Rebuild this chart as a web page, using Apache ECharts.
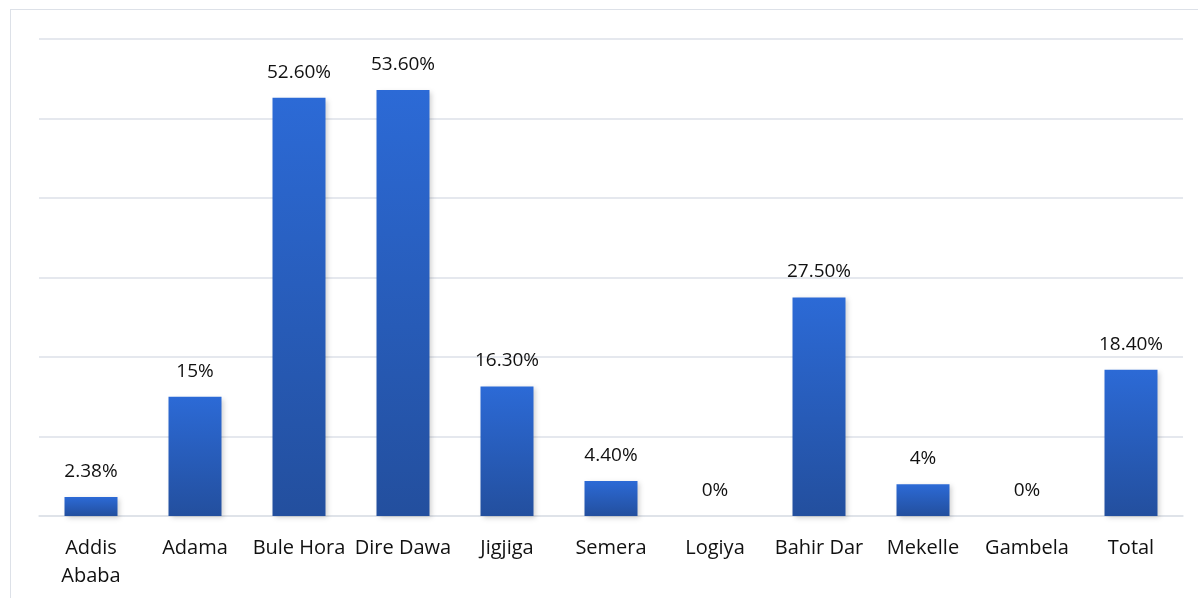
<!DOCTYPE html>
<html>
<head>
<meta charset="utf-8">
<script src="https://cdn.jsdelivr.net/npm/echarts@6/dist/echarts.min.js"></script>
<style>
  html, body { margin: 0; padding: 0; background: #fff; }
  #frame { position: absolute; left: 10px; top: 9px; width: 1200px; height: 600px; border: 1px solid #dde1e8; box-sizing: border-box; }
  #chart { position: absolute; left: 0; top: 0; width: 1198px; height: 598px; }
</style>
</head>
<body>
<div id="frame"></div>
<div id="chart"></div>
<script>
const cities = ['Addis\nAbaba', 'Adama', 'Bule Hora', 'Dire Dawa', 'Jigjiga', 'Semera', 'Logiya', 'Bahir Dar', 'Mekelle', 'Gambela', 'Total']
const rates = [2.38, 15, 52.6, 53.6, 16.3, 4.4, 0, 27.5, 4, 0, 18.4]
const rateLabels = ['2.38%', '15%', '52.60%', '53.60%', '16.30%', '4.40%', '0%', '27.50%', '4%', '0%', '18.40%']

const chart = echarts.init(document.getElementById('chart'))

chart.setOption({
  backgroundColor: 'transparent',
  textStyle: { fontFamily: '"Open Sans", sans-serif' },
  grid: { left: 39, right: 15, top: 39, bottom: 82 },
  xAxis: {
    type: 'category',
    data: cities,
    axisTick: { show: false },
    axisLine: { lineStyle: { color: '#dde1e8', width: 1.5 } },
    axisLabel: { color: '#111', fontSize: 20, margin: 18, lineHeight: 28, interval: 0 }
  },
  yAxis: {
    type: 'value',
    min: 0,
    max: 60,
    interval: 10,
    axisLabel: { show: false },
    axisLine: { show: false },
    axisTick: { show: false },
    splitLine: { lineStyle: { color: '#dde1e8', width: 1.5 } }
  },
  series: [
    {
      type: 'bar',
      data: rates,
      barWidth: 53,
      itemStyle: {
        color: new echarts.graphic.LinearGradient(0, 0, 0, 1, [
          { offset: 0, color: '#2c6ad6' },
          { offset: 1, color: '#234f9e' }
        ]),
        shadowColor: 'rgba(0, 0, 0, 0.18)',
        shadowBlur: 5,
        shadowOffsetX: 2,
        shadowOffsetY: 2
      },
      label: {
        show: true,
        position: 'top',
        distance: 16,
        color: '#111',
        fontSize: 19,
        formatter: (p) => rateLabels[p.dataIndex]
      }
    }
  ]
})
</script>
</body>
</html>
